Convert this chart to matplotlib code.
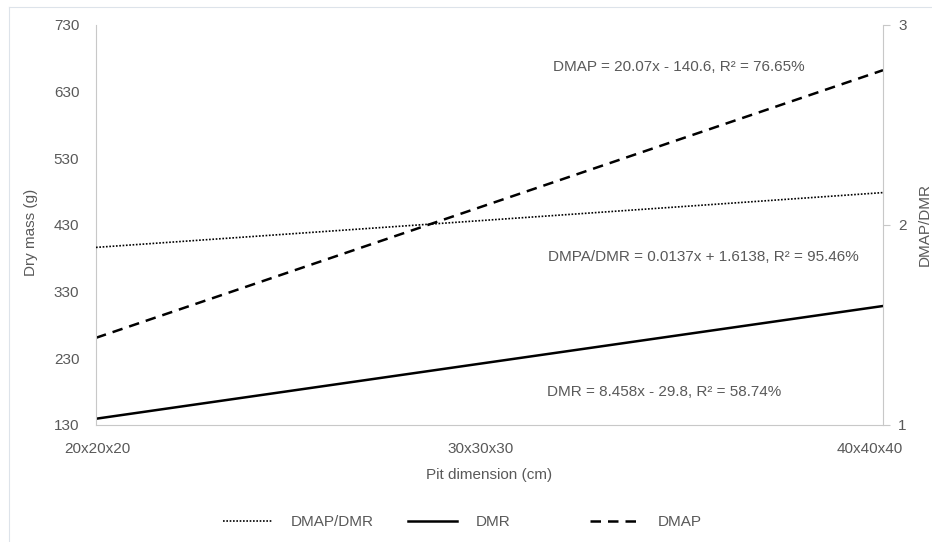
import matplotlib.pyplot as plt
from matplotlib.lines import Line2D
from matplotlib.transforms import blended_transform_factory, ScaledTranslation

# ------------------------------------------
# Data
# ------------------------------------------
pit_labels = ["20x20x20", "30x30x30", "40x40x40"]
dmr = [139.4, 224.0, 308.5]          # left axis, dry mass (g)
dmap = [260.8, 461.5, 662.2]         # left axis, dry mass (g)
dmap_dmr = [1.888, 2.025, 2.162]     # right axis, ratio
legend_labels = ["DMAP/DMR", "DMR", "DMAP"]

grey = "#595959"
axis_grey = "#c8c8c8"
plt.rcParams["font.family"] = ["Liberation Sans", "DejaVu Sans"]
fs = 11

fig = plt.figure(figsize=(9.32, 5.42), dpi=100)
ax = fig.add_axes([96 / 932, 1 - 425 / 542, (883 - 96) / 932, 400 / 542])
ax2 = ax.twinx()

x = list(range(len(pit_labels)))

dmr_style = dict(color="black", linewidth=1.8)
dmap_style = dict(color="black", linewidth=1.8, dashes=(4.2, 2.8))
ratio_style = dict(color="black", linewidth=1.2, dashes=(1, 1))

ax.plot(x, dmr, **dmr_style)
ax.plot(x, dmap, **dmap_style)
ax2.plot(x, dmap_dmr, **ratio_style)

ax.set_xlim(0, 2)
ax.set_ylim(130, 730)
ax.set_yticks(range(130, 731, 100))
ax2.set_ylim(1, 3)
ax2.set_yticks([1, 2, 3])
ax.set_xticks([])

for a in (ax, ax2):
    for s in a.spines.values():
        s.set_visible(False)
    a.tick_params(colors=grey, labelsize=fs)
ax.spines["left"].set_visible(True)
ax.spines["left"].set_color(axis_grey)
ax.spines["bottom"].set_visible(True)
ax.spines["bottom"].set_color(axis_grey)
ax2.spines["right"].set_visible(True)
ax2.spines["right"].set_color(axis_grey)

ax.tick_params(axis="y", length=0, pad=12)
ax2.tick_params(axis="y", length=5, color=axis_grey, pad=6)

# Category labels (Excel places them slightly left of the tick positions)
xlab_tr = blended_transform_factory(ax.transData, ax.transAxes)
label_shift_px = [1.5, -8.5, -13]
for xi, lab, sh in zip(x, pit_labels, label_shift_px):
    ax.text(xi, 0, lab, transform=xlab_tr + ScaledTranslation(sh / 100, -24 / 100, fig.dpi_scale_trans),
            ha="center", va="center", color=grey, fontsize=fs)

ax.set_ylabel("Dry mass (g)", color=grey, fontsize=fs)
ax2.set_ylabel("DMAP/DMR", color=grey, fontsize=fs)
ax.yaxis.set_label_coords(-58 / 787, (425 - 232) / 400)
ax2.yaxis.set_label_coords((918 - 96) / 787, 0.5)
fig.text(489.5 / 932, 1 - 475 / 542, "Pit dimension (cm)", ha="center", va="center",
         color=grey, fontsize=fs)

# Trend equations
ax.text((553 - 96) / 787, (425 - 67) / 400, "DMAP = 20.07x - 140.6, R² = 76.65%",
        transform=ax.transAxes, color=grey, fontsize=fs, va="center")
ax.text((548 - 96) / 787, (425 - 257) / 400, "DMPA/DMR = 0.0137x + 1.6138, R² = 95.46%",
        transform=ax.transAxes, color=grey, fontsize=fs, va="center")
ax.text((547 - 96) / 787, (425 - 392) / 400, "DMR = 8.458x - 29.8, R² = 58.74%",
        transform=ax.transAxes, color=grey, fontsize=fs, va="center")

# Legend (one entry per slot, like Excel)
handles = [Line2D([], [], **ratio_style), Line2D([], [], **dmr_style), Line2D([], [], **dmap_style)]
legend_x = [223, 408, 590]
for h, lab, lx in zip(handles, legend_labels, legend_x):
    fig.legend([h], [lab], loc="center left", bbox_to_anchor=(lx / 932, 1 - 522 / 542),
               frameon=False, fontsize=fs, labelcolor=grey, handlelength=3.2,
               handletextpad=1.25, borderpad=0, borderaxespad=0)

# Outer chart border
border = "#dde3ea"
fig.add_artist(Line2D([9 / 932, 9 / 932], [0, 1 - 7 / 542], transform=fig.transFigure,
                      color=border, linewidth=0.8))
fig.add_artist(Line2D([9 / 932, 1], [1 - 7 / 542, 1 - 7 / 542], transform=fig.transFigure,
                      color=border, linewidth=0.8))

fig.savefig("out.png", dpi=100)
